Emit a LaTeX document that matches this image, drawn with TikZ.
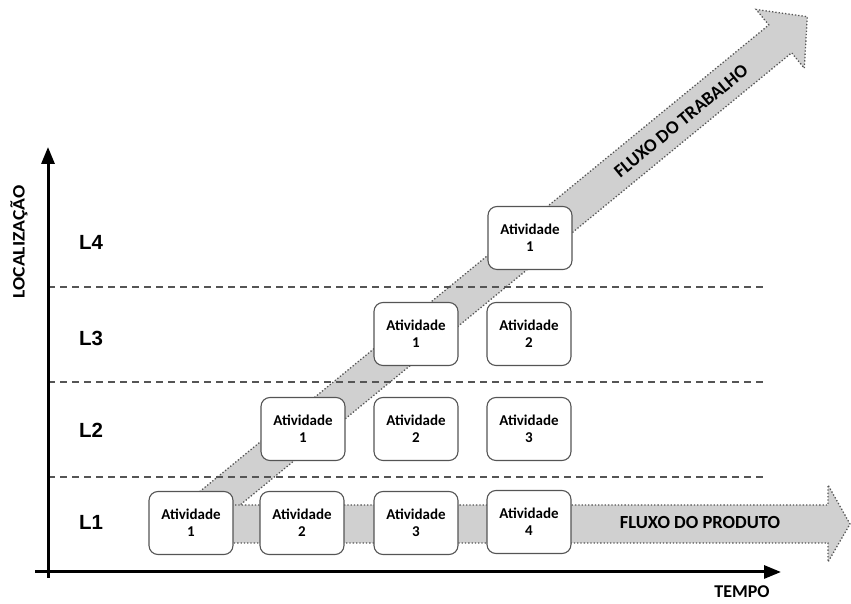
\documentclass[tikz,border=0pt]{standalone}
\usepackage{fontspec}
\setmainfont{Carlito}
\newfontfamily\arialfont{Liberation Sans}
\newfontfamily\widefont[FakeStretch=1.12]{Carlito}
\usetikzlibrary{arrows.meta}
\definecolor{bandgray}{RGB}{208,208,208}
\definecolor{edgegray}{RGB}{85,85,85}
\tikzset{
  actbox/.style={draw=edgegray, line width=1.1pt, fill=white, rounded corners=9pt,
    minimum width=84pt, minimum height=63pt, align=center,
    font=\bfseries\fontsize{15}{17}\selectfont, inner sep=0pt},
  band/.style={fill=bandgray, draw=edgegray, line width=1.3pt, dotted},
  sep/.style={draw=edgegray, line width=1.3pt, dash pattern=on 7pt off 5pt},
  axisline/.style={line width=3pt, -{Triangle[length=17pt,width=13pt]}},
  levlabel/.style={font=\arialfont\bfseries\fontsize{20.5}{22}\selectfont},
  flowtext/.style={font=\bfseries\fontsize{18.5}{20}\selectfont},
  axistext/.style={font=\bfseries\fontsize{18}{20}\selectfont}
}
\begin{document}
\begin{tikzpicture}[x=1pt,y=1pt]
\useasboundingbox (0,0) rectangle (851,604);
% work flow (diagonal) band
\begin{scope}[shift={(191,82)}, rotate=39.35]
  \draw[band] (0,-18) -- (762,-18) -- (762,-38) -- (797,0) -- (762,38) -- (762,18) -- (0,18) -- cycle;
\end{scope}
\node[flowtext, rotate=39.35] (ftrab) at (681,483) {FLUXO DO TRABALHO};
% product flow band
\draw[band] (191,61) -- (828,61) -- (828,42) -- (850,80) -- (828,119) -- (828,99) -- (191,99) -- cycle;
\node[flowtext] (fprod) at (700,81) {FLUXO DO PRODUTO};
% separators
\coordinate (s1a) at (48,127); \coordinate (s1b) at (765,127);
\coordinate (s2a) at (48,222); \coordinate (s2b) at (765,222);
\coordinate (s3a) at (48,317); \coordinate (s3b) at (765,317);
\draw[sep] (s1a) -- (s1b);
\draw[sep] (s2a) -- (s2b);
\draw[sep] (s3a) -- (s3b);
% axes
\coordinate (o1) at (48,26); \coordinate (ytip) at (48,457);
\coordinate (o2) at (35,32); \coordinate (xtip) at (781,32);
\draw[axisline] (o1) -- (ytip);
\draw[axisline] (o2) -- (xtip);
\node[axistext] (tempo) at (742,12) {TEMPO};
\node[font=\widefont\bfseries\fontsize{17.5}{19}\selectfont, rotate=90] (loc) at (19,362) {LOCALIZAÇÃO};
% level labels
\node[levlabel] (l4) at (91,362) {L4};
\node[levlabel] (l3) at (91,266) {L3};
\node[levlabel] (l2) at (91,174) {L2};
\node[levlabel] (l1) at (91,82) {L1};
% boxes
\node[actbox] (a11) at (191,81) {Atividade\\1};
\node[actbox] (a12) at (302,81) {Atividade\\2};
\node[actbox] (a13) at (416,81) {Atividade\\3};
\node[actbox] (a14) at (529,82) {Atividade\\4};
\node[actbox] (a21) at (303,175) {Atividade\\1};
\node[actbox] (a22) at (416,175) {Atividade\\2};
\node[actbox] (a23) at (529,175) {Atividade\\3};
\node[actbox] (a31) at (416,270) {Atividade\\1};
\node[actbox] (a32) at (529,270) {Atividade\\2};
\node[actbox] (a41) at (530,366) {Atividade\\1};
\end{tikzpicture}
\end{document}
